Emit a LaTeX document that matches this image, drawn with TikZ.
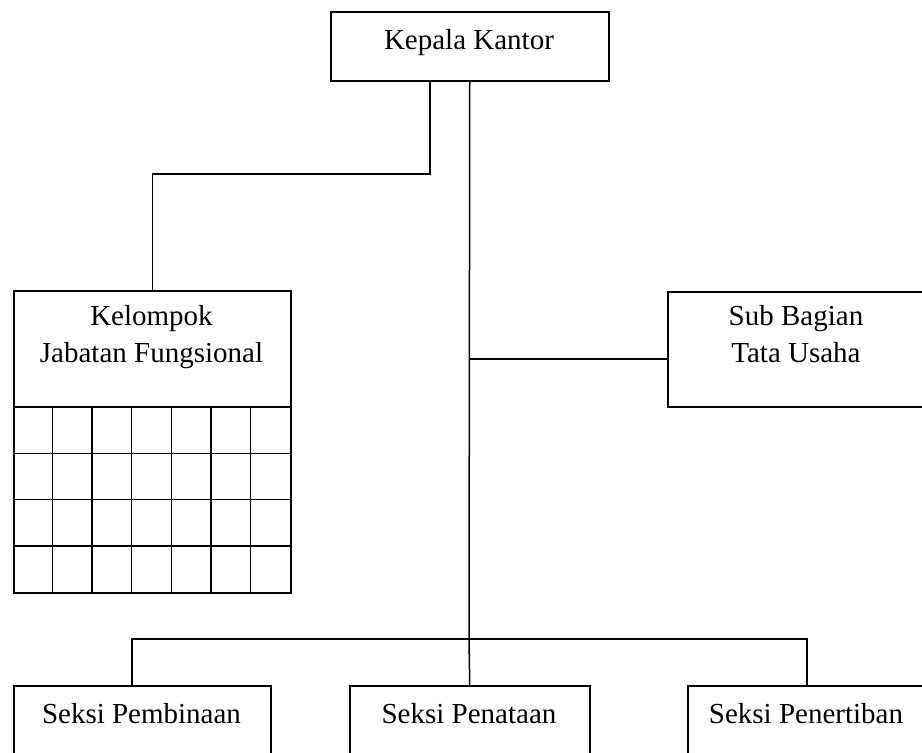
\documentclass[tikz,border=0pt]{standalone}
\usepackage{fontspec}
\setmainfont{Liberation Serif}

\begin{document}
\begin{tikzpicture}[x=1pt, y=-1pt, line width=1.5pt,
  box/.style={draw, anchor=north west, inner sep=0pt},
  txt/.style={anchor=base, align=center, inner sep=0pt, font=\fontsize{29}{37}\selectfont}]
\useasboundingbox (0,0) rectangle (922,753);
\clip (0,0) rectangle (922,753);

% Kepala Kantor
\node[box, minimum width=278pt, minimum height=69pt] (kepala) at (330,11) {};
\node[txt] (kepalaT) at (469,49) {Kepala Kantor};

% Kelompok Jabatan Fungsional
\node[box, minimum width=277pt, minimum height=302pt] (kelompok) at (13,290) {};
\node[txt] (kelompokT) at (151.5,362) {Kelompok\\Jabatan Fungsional};
\foreach \r in {0,1,2,3} {
    \draw (13,{407+46.25*\r}) -- (290,{407+46.25*\r});
}
\foreach \k in {1,...,6} {
    \draw ({13+277/7*\k},407) -- ({13+277/7*\k},592);
}

% Sub Bagian Tata Usaha
\node[box, minimum width=258pt, minimum height=115pt] (subbag) at (667,291) {};
\node[txt] (subbagT) at (796,362) {Sub Bagian\\Tata Usaha};

% Seksi
\node[box, minimum width=257pt, minimum height=100pt] (pembinaan) at (13,685) {};
\node[txt] (pembinaanT) at (141.5,723) {Seksi Pembinaan};
\node[box, minimum width=240pt, minimum height=100pt] (penataan) at (349,685) {};
\node[txt] (penataanT) at (469,723) {Seksi Penataan};
\node[box, minimum width=238pt, minimum height=100pt] (penertiban) at (687,685) {};
\node[txt] (penertibanT) at (806,723) {Seksi Penertiban};

% Connections
\coordinate (kbend) at (430,174);
\coordinate (tjsub) at (469,359);
\coordinate (tjbawah) at (469,639);
\coordinate (kiri) at (132,639);
\draw (kepala.south -| kbend) -- (kbend) -| (kelompok.north);
\draw (kepala.south) -- (tjbawah) -- (penataan.north);
\draw (tjsub) -- (tjsub -| subbag.west);
\draw (pembinaan.north -| kiri) -- (kiri) -- (penertiban.north |- kiri) -- (penertiban.north);

\end{tikzpicture}
\end{document}
